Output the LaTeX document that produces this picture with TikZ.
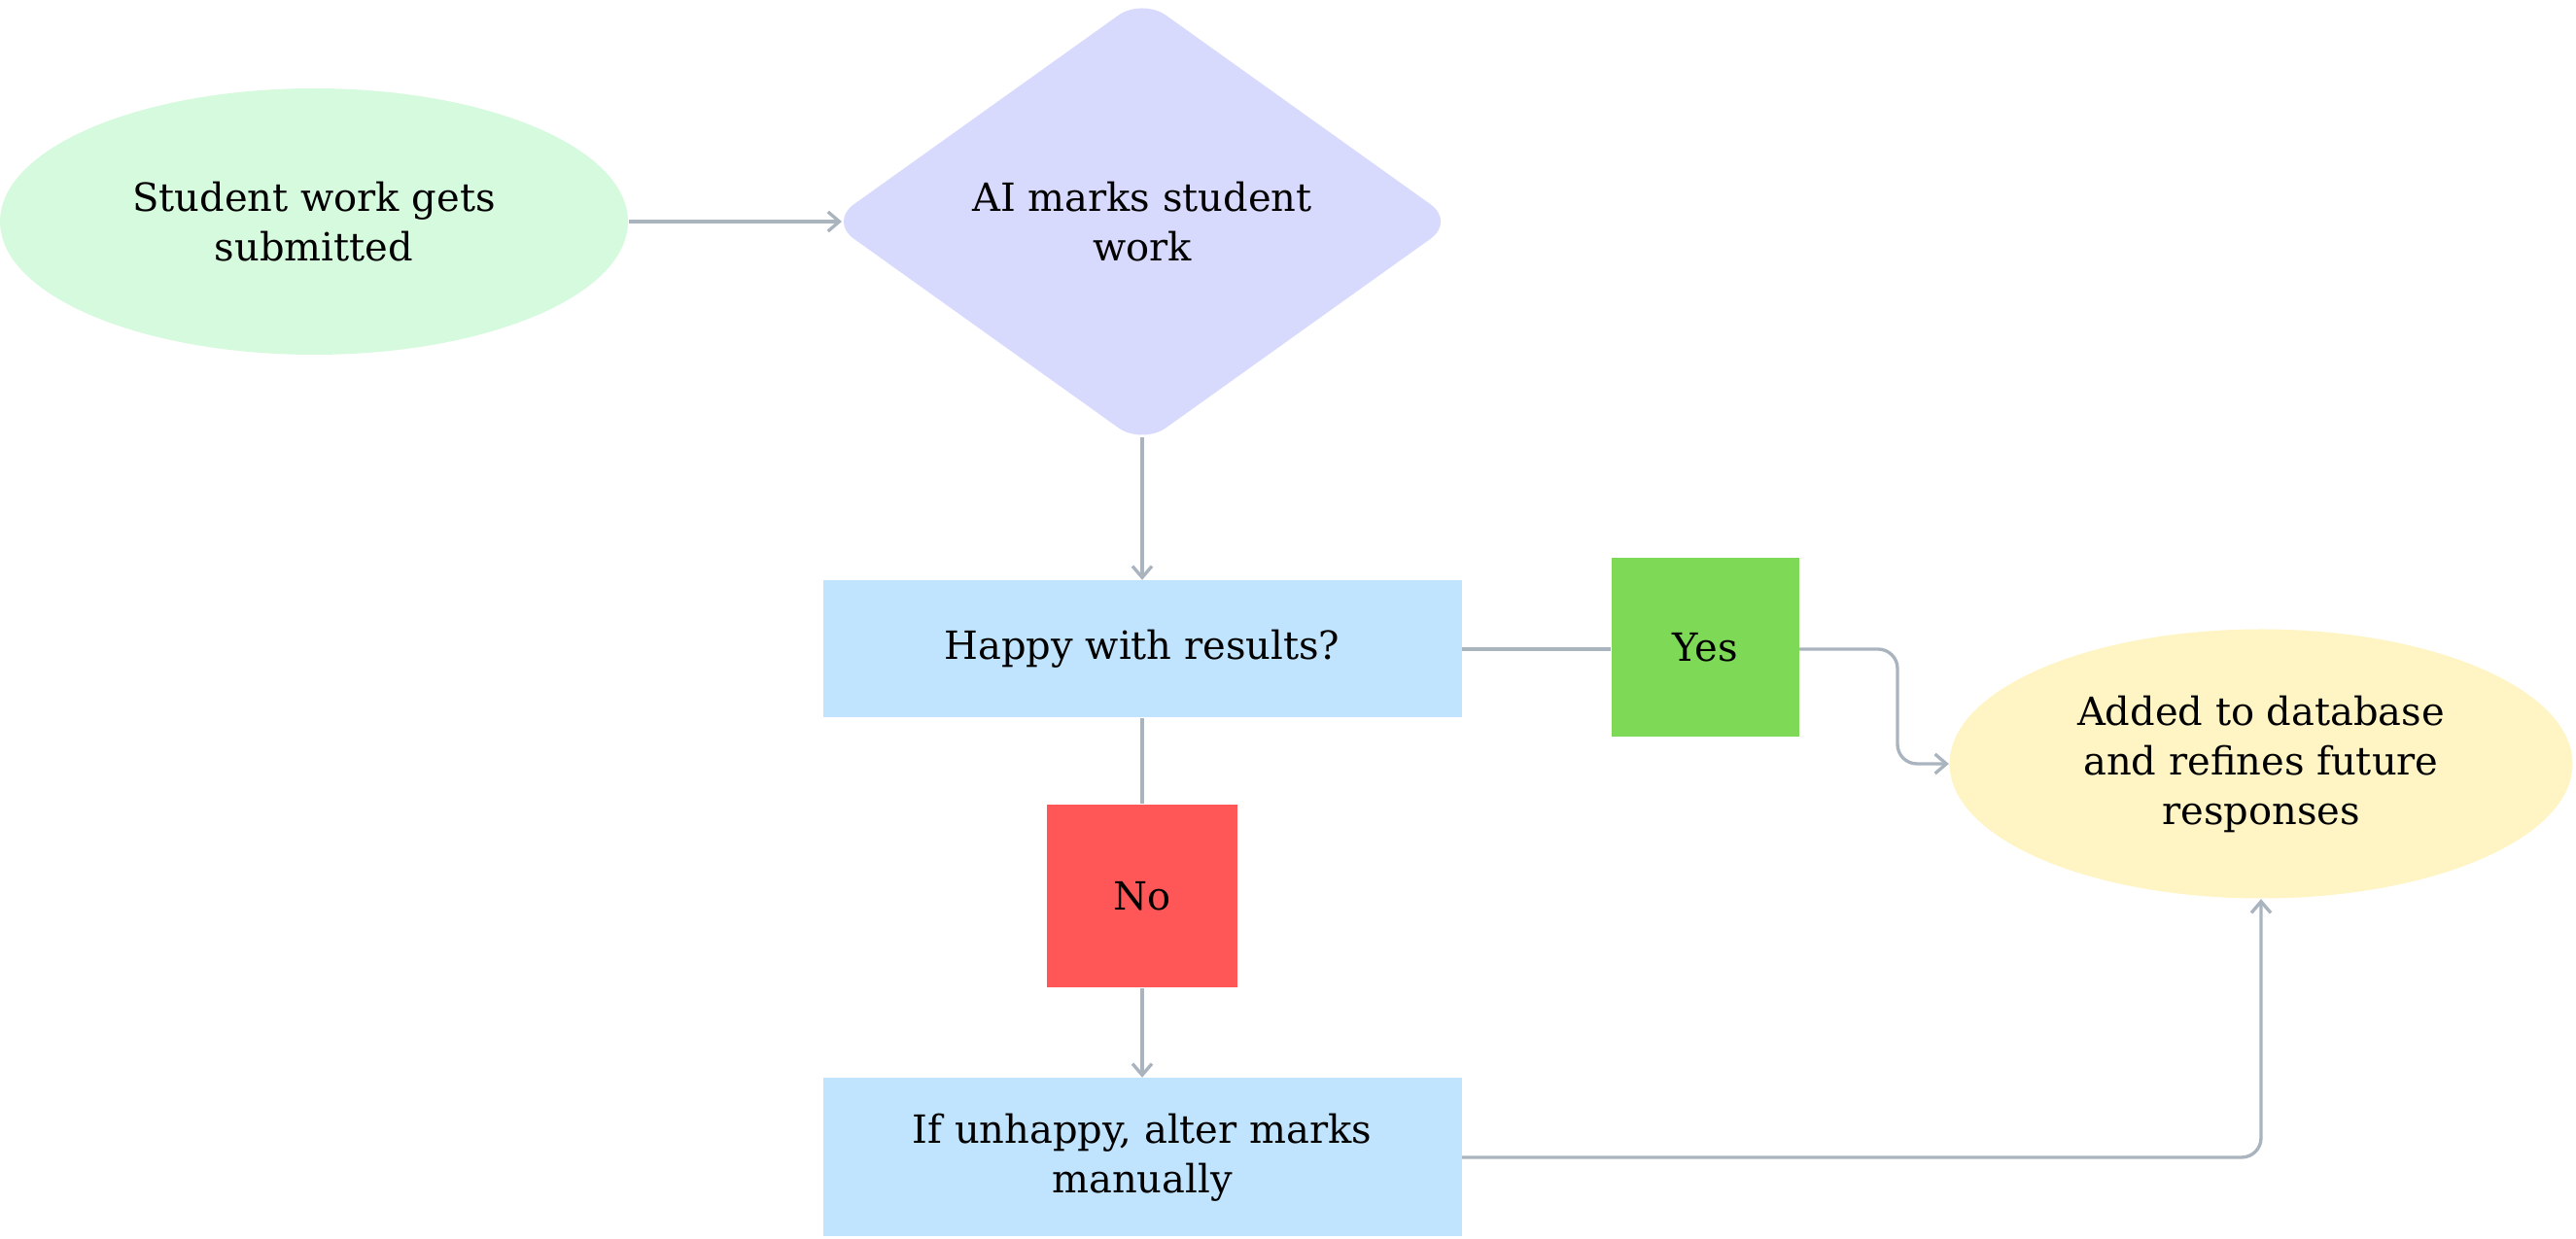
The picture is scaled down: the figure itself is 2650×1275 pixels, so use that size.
\documentclass[tikz,border=0pt]{standalone}
\usepackage{fontspec}
\setmainfont{DejaVu Serif}
\usetikzlibrary{shapes.geometric,arrows.meta}
\definecolor{cstart}{HTML}{D6FADD}
\definecolor{cdiam}{HTML}{D8DAFD}
\definecolor{cblue}{HTML}{C1E4FE}
\definecolor{cyes}{HTML}{7ED957}
\definecolor{cno}{HTML}{FF5757}
\definecolor{cyel}{HTML}{FFF4C4}
\definecolor{cline}{HTML}{A9B4BE}
\tikzset{
  txt/.style={font=\fontsize{12}{15.3}\selectfont, align=center, text=black},
  ovalbox/.style={txt, ellipse, inner sep=0pt, draw=none},
  diambox/.style={txt, diamond, aspect=1.4, inner sep=0pt, draw=none, rounded corners=9pt},
  rectbox/.style={txt, rectangle, inner sep=0pt, draw=none},
  conn/.style={draw=cline, line width=1pt},
  arr/.style={conn, -{Straight Barb[length=3.5pt,width=6pt]}},
}
\begin{document}
\begin{tikzpicture}[x=0.3pt,y=-0.3pt]
\useasboundingbox (0,0) rectangle (2650,1275);
\node[ovalbox, fill=cstart, minimum width=193.8pt, minimum height=82.2pt] (start) at (323,228) {Student work gets\\submitted};
\node[diambox, fill=cdiam, minimum width=193pt, minimum height=138pt] (ai) at (1175,228) {AI marks student\\work};
\node[rectbox, fill=cblue, minimum width=197.1pt, minimum height=42.3pt] (happy) at (1175,668) {Happy with results?};
\node[rectbox, fill=cyes, minimum width=57.9pt, minimum height=55.2pt] (yes) at (1754,666) {Yes};
\node[ovalbox, fill=cyel, minimum width=192.3pt, minimum height=83.1pt] (db) at (2326,786) {Added to database\\and refines future\\responses};
\node[rectbox, fill=cno, minimum width=58.8pt, minimum height=56.4pt] (no) at (1175,922) {No};
\node[rectbox, fill=cblue, minimum width=197.1pt, minimum height=48.9pt] (manual) at (1175,1191) {If unhappy, alter marks\\manually};
\coordinate (bend) at (1952,0);
\draw[arr, shorten >=-4pt] (start.east) -- (ai.west);
\draw[arr, shorten <=-2.5pt] (ai.south) -- (happy.north);
\draw[conn] (happy.east) -- (yes.west |- happy.east);
\draw[arr, rounded corners=6pt] (yes.east |- happy.east) -| (bend |- db.west) -- (db.west);
\draw[conn] (happy.south) -- (no.north);
\draw[arr] (no.south) -- (manual.north);
\draw[arr, rounded corners=6pt] (manual.east) -| (db.south);
\end{tikzpicture}
\end{document}
